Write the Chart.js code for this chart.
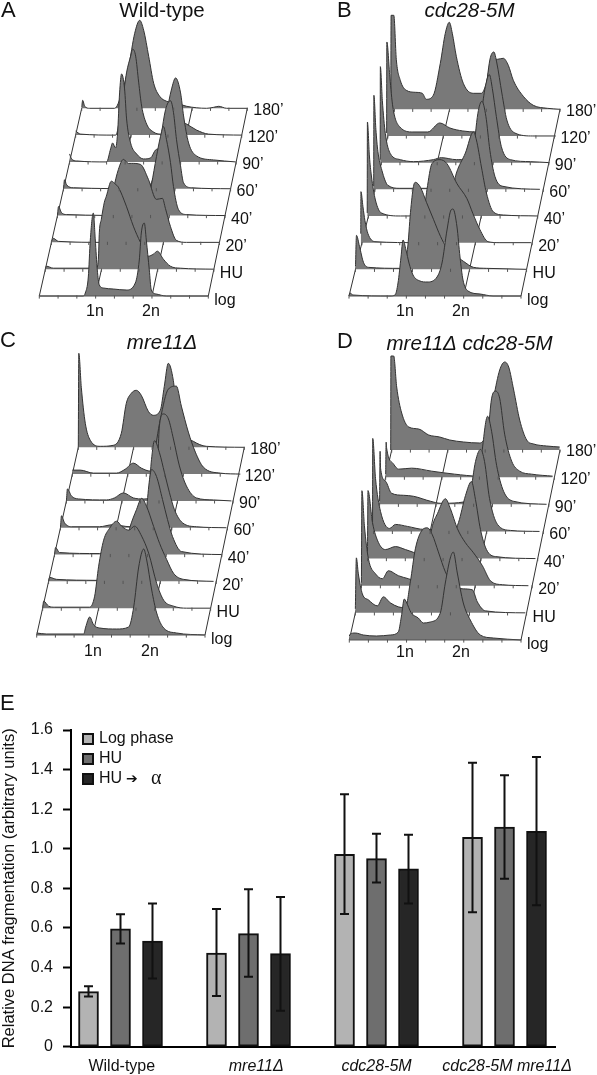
<!DOCTYPE html>
<html><head><meta charset="utf-8">
<script src="https://cdn.jsdelivr.net/npm/chart.js@4"></script>
<style>
html,body{margin:0;padding:0;background:#fff;width:597px;height:1075px;overflow:hidden}
canvas{position:absolute;display:block}
</style></head><body>
<canvas id="pA" style="left:0;top:0" width="300" height="320"></canvas>
<canvas id="pB" style="left:300px;top:0" width="297" height="320"></canvas>
<canvas id="pC" style="left:0;top:320px" width="300" height="340"></canvas>
<canvas id="pD" style="left:300px;top:320px" width="297" height="340"></canvas>
<canvas id="pE" style="left:0;top:690px" width="597" height="385"></canvas>
<script>
// ---- flow cytometry profiles: [DNA channel, cell count] per time point, front row (log) first
const rowLabels = ['log','HU','20’','40’','60’','90’','120’','180’'];
const ploidyLabels = ['1n','2n'];
const ploidyFractions = [1/3, 2/3];

const A_log=[[0,0],[44,0],[46,3],[49,19],[51,56],[54,83],[56,56],[58,26],[60,11],[64,8],[74,7],[87,6],[96,13],[100,36],[102,63],[105,73],[107,56],[110,26],[112,6],[117,2],[127,0],[169,0]];
const A_HU=[[0,0],[1,3],[8,1],[51,1],[53,10],[54,37],[56,50],[59,67],[61,73],[66,88],[70,85],[73,82],[81,63],[88,43],[95,27],[103,13],[108,15],[112,18],[118,10],[125,3],[135,1],[168,0]];
const A_20=[[0,1],[2,4],[7,1],[54,0],[57,26],[62,53],[67,73],[72,83],[77,79],[80,79],[89,78],[97,63],[105,43],[111,44],[114,34],[119,16],[125,2],[135,0],[168,0]];
const A_40=[[0,0],[1,9],[4,3],[9,1],[86,0],[91,16],[94,31],[99,59],[103,79],[106,89],[109,76],[113,53],[116,29],[121,6],[129,1],[168,0]];
const A_60=[[0,0],[1,9],[3,4],[10,1],[83,0],[93,23],[102,79],[107,88],[110,76],[113,49],[117,23],[120,6],[128,1],[167,0]];
const A_90=[[0,8],[2,3],[7,1],[37,0],[41,13],[43,19],[46,14],[48,29],[50,69],[52,88],[55,73],[57,43],[61,19],[67,8],[74,3],[81,4],[86,12],[91,16],[97,49],[102,73],[106,84],[111,69],[114,46],[119,19],[127,6],[144,2],[166,0]];
const A_120=[[0,4],[5,1],[40,0],[46,29],[51,63],[55,79],[57,86],[60,79],[63,53],[66,29],[71,11],[78,3],[85,1],[98,3],[106,13],[111,11],[121,5],[133,1],[166,0]];
const A_180=[[0,1],[1,8],[3,2],[8,0],[33,0],[40,15],[47,42],[53,75],[58,88],[62,78],[67,52],[72,25],[78,12],[85,7],[95,5],[105,2],[125,0],[132,1],[137,2],[145,0],[166,0]];

const B_log=[[0,0],[1,3],[4,1],[41,0],[46,1],[49,13],[52,39],[54,56],[57,46],[60,33],[64,21],[71,15],[78,14],[88,19],[93,33],[98,66],[102,86],[104,87],[108,69],[111,39],[114,16],[119,5],[131,2],[144,0],[172,0]];
const B_HU=[[0,3],[1,34],[4,23],[8,7],[13,2],[45,1],[52,20],[55,57],[58,83],[60,87],[65,82],[71,67],[78,50],[85,33],[91,22],[101,13],[108,8],[118,2],[131,1],[171,0]];
const B_20=[[-1.2,9],[-1,51],[1,36],[3,22],[6,9],[13,1],[58,0],[65,53],[70,79],[78,83],[85,79],[95,59],[105,44],[111,29],[118,13],[126,1],[138,0],[169,0]];
const B_40=[[-1.2,3],[-1,94],[1,60],[3,40],[7,16],[13,3],[32,0],[78,3],[88,43],[97,63],[105,84],[108,76],[113,49],[118,23],[125,4],[135,1],[169,0]];
const B_60=[[-1.2,3],[-1,94],[1,60],[3,38],[7,19],[13,4],[25,1],[55,1],[92,3],[98,33],[103,76],[107,88],[111,73],[115,39],[120,13],[128,3],[165,0]];
const B_90=[[-1.2,3],[-1,96],[1,62],[4,29],[9,9],[19,3],[32,1],[52,3],[60,5],[75,3],[95,6],[100,49],[104,76],[108,88],[111,74],[115,46],[120,16],[129,3],[149,1],[168,0]];
const B_120=[[-1.2,3],[-1,94],[2,59],[5,29],[12,9],[25,4],[40,4],[52,13],[62,8],[75,5],[89,4],[94,13],[97,36],[102,76],[106,84],[109,73],[114,43],[119,16],[127,3],[145,0],[168,0]];
const B_180=[[-3.5,0],[-3.2,94],[-0.5,94],[2,50],[6,29],[12,19],[21,17],[28,16],[32,10],[39,14],[46,46],[51,76],[55,87],[58,76],[62,53],[69,26],[79,16],[87,16],[92,26],[97,49],[103,50],[109,51],[114,44],[119,29],[129,13],[139,4],[153,1],[166,0]];

const C_log=[[0,2],[10,1],[47,1],[49,8],[53,18],[57,10],[63,7],[80,6],[92,8],[97,28],[102,68],[107,86],[110,75],[115,45],[120,22],[127,7],[140,2],[168,0]];
const C_HU=[[0,0],[1,7],[6,2],[12,1],[47,1],[52,12],[56,42],[61,68],[67,80],[74,87],[79,82],[86,78],[92,82],[99,72],[106,55],[114,25],[121,8],[131,2],[144,0],[168,0]];
const C_20=[[0,0],[1,4],[8,2],[48,1],[68,0],[81,53],[88,72],[93,83],[98,75],[105,55],[111,38],[118,22],[125,8],[135,2],[165,0]];
const C_40=[[0,0],[1,7],[5,2],[45,1],[88,2],[92,45],[95,75],[97,85],[102,78],[108,55],[113,35],[118,18],[127,3],[167,0]];
const C_60=[[0,0],[1,12],[4,5],[11,1],[39,1],[52,3],[70,1],[86,8],[91,68],[94,87],[99,75],[104,55],[109,35],[114,18],[122,5],[136,1],[166,0]];
const C_90=[[0,0],[1,12],[5,5],[12,2],[40,1],[48,3],[57,8],[67,3],[77,2],[90,15],[93,75],[97,87],[102,82],[107,62],[113,35],[120,15],[130,3],[147,1],[165,0]];
const C_120=[[0,4],[8,4],[21,1],[44,1],[53,5],[61,11],[69,6],[78,3],[81,15],[88,55],[96,85],[104,88],[109,68],[116,42],[123,22],[131,7],[148,1],[168,0]];
const C_180=[[0,0],[0.5,94],[3,60],[7,24],[12,7],[22,1],[35,2],[43,14],[48,44],[53,54],[58,57],[63,52],[70,36],[75,32],[82,37],[86,61],[90,84],[95,67],[98,41],[105,14],[115,6],[128,1],[166,0]];

const D_log=[[0,4],[1,6],[6,7],[14,5],[27,4],[41,5],[49,8],[52,23],[55,41],[57,38],[62,27],[69,22],[74,17],[81,18],[91,27],[96,57],[101,82],[104,88],[108,67],[114,37],[121,20],[131,5],[144,2],[172,0]];
const D_HU=[[0,4],[1,55],[3,39],[7,19],[13,13],[22,7],[28,16],[35,10],[43,6],[50,5],[55,31],[60,64],[67,83],[72,85],[77,78],[83,61],[90,41],[98,28],[108,24],[117,23],[122,11],[130,2],[170,0]];
const D_20=[[0,3],[0.5,95],[3,60],[7,27],[14,12],[21,7],[27,15],[37,10],[47,7],[60,3],[71,60],[76,72],[84,87],[89,77],[96,57],[104,43],[112,33],[121,20],[129,5],[141,1],[167,0]];
const D_40=[[0,3],[0.5,68],[5,36],[11,16],[18,9],[28,12],[38,9],[54,4],[74,3],[91,36],[98,63],[104,77],[108,59],[113,29],[119,9],[128,2],[168,0]];
const D_60=[[-1,3],[-0.8,93],[2,53],[7,20],[16,3],[22,7],[34,5],[51,2],[81,3],[97,40],[102,70],[107,82],[111,70],[116,33],[124,7],[137,1],[166,0]];
const D_90=[[0,3],[0.5,53],[1,36],[6,23],[12,11],[24,9],[34,8],[51,3],[61,1],[97,6],[102,49],[108,88],[112,73],[117,39],[124,13],[134,3],[167,0]];
const D_120=[[0,3],[0.5,35],[1,29],[8,13],[13,8],[26,9],[46,6],[69,3],[93,1],[101,29],[106,79],[110,86],[114,79],[119,43],[126,16],[134,6],[146,3],[167,1]];
const D_180=[[-1,0],[-0.8,94],[2,94],[5,63],[10,37],[17,23],[27,21],[37,15],[48,13],[58,10],[72,8],[88,7],[95,17],[102,53],[108,80],[113,88],[117,83],[122,60],[128,30],[135,10],[142,6],[155,4],[168,3]];

// ---- panel E values
const groups = ['Wild-type','mre11Δ','cdc28-5M','cdc28-5M mre11Δ'];
const groupItalic = [false,true,true,true];
const yTicks = [0,0.2,0.4,0.6,0.8,1.0,1.2,1.4,1.6];
const logPhase = [0.278,0.473,0.972,1.058];
const huOnly   = [0.595,0.571,0.950,1.110];
const huAlpha  = [0.534,0.470,0.898,1.088];
const logPhaseHi=[0.306,0.696,1.275,1.435], logPhaseLo=[0.253,0.256,0.670,0.679];
const huOnlyHi  =[0.669,0.795,1.076,1.371], huOnlyLo  =[0.522,0.354,0.829,0.849];
const huAlphaHi =[0.724,0.756,1.071,1.464], huAlphaLo =[0.344,0.182,0.724,0.714];

// ---- layout / style (separate from the values)
const FONT='"Liberation Sans", Arial, sans-serif';
const panels=[
 {id:'pA',W:300,H:320,rows:[A_log,A_HU,A_20,A_40,A_60,A_90,A_120,A_180],fl:39.3,bl:81.7,fr:208.3,br:247.3,fb:296,bb:108.3,
  letter:'A',lx:1,ly:11,title:'Wild-type',tx:162,ty:11,italic:false,nx:[95,151],ny:312},
 {id:'pB',W:297,H:320,rows:[B_log,B_HU,B_20,B_40,B_60,B_90,B_120,B_180],fl:49,bl:94.3,fr:221,br:260,fb:296,bb:109.3,
  letter:'B',lx:37,ly:11,title:'cdc28-5M',tx:169.5,ty:11,italic:true,nx:[105,161],ny:312},
 {id:'pC',W:300,H:340,rows:[C_log,C_HU,C_20,C_40,C_60,C_90,C_120,C_180],fl:36.7,bl:78.3,fr:205,br:244.3,fb:315,bb:127.3,
  letter:'C',lx:0,ly:21,title:'mre11Δ',tx:162,ty:23,italic:true,nx:[93,150],ny:332},
 {id:'pD',W:297,H:340,rows:[D_log,D_HU,D_20,D_40,D_60,D_90,D_120,D_180],fl:49.3,bl:91.7,fr:221,br:260,fb:320,bb:130,
  letter:'D',lx:37,ly:22,title:'mre11Δ cdc28-5M',tx:169.5,ty:24,italic:true,nx:[105,161],ny:333},
];
const INK='#333', GRAY='#797979';

function buildPanel(p){
  const n=p.rows.length-1, t=i=>i/n;
  const left=i=>p.fl+(p.bl-p.fl)*t(i), right=i=>p.fr+(p.br-p.fr)*t(i);
  const base=i=>p.H-(p.fb+(p.bb-p.fb)*t(i));
  const plain={pointRadius:0,fill:false,showLine:true,borderWidth:1,borderColor:INK};
  const list=[];
  list.push({...plain,data:[{x:left(0),y:base(0)},{x:left(n),y:base(n)}]});
  list.push({...plain,data:[{x:right(0),y:base(0)},{x:right(n),y:base(n)}]});
  ploidyFractions.forEach(f=>{
    list.push({...plain,data:[0,n].map(i=>({x:left(i)+(right(i)-left(i))*f,y:base(i)}))});
  });
  for(let i=n;i>=0;i--){
    list.push({showLine:true,pointRadius:0,cubicInterpolationMode:'monotone',borderWidth:1,
      borderColor:INK,backgroundColor:GRAY,fill:{value:base(i)},
      data:p.rows[i].map(([c,h])=>({x:left(i)+c,y:base(i)+h}))});
  }
  list.push({...plain,borderWidth:1,borderColor:'#555',data:[{x:left(0),y:base(0)},{x:right(0),y:base(0)}]});
  const ticks=[];
  for(let i=0;i<=n;i++)for(let k=0;k<=9;k++)
    ticks.push({x:left(i)+(right(i)-left(i))*k/9,y:base(i)-1});
  list.push({showLine:false,data:ticks,pointStyle:'line',rotation:90,pointRadius:1.6,borderWidth:1,borderColor:'#555',backgroundColor:'#555'});
  list.reverse();

  const textPlugin={id:'panelText',afterDraw(c){
    const g=c.ctx,xs=c.scales.x,ys=c.scales.y;
    g.save();g.fillStyle='#111';g.textBaseline='middle';
    g.textAlign='left';g.font='16px '+FONT;
    rowLabels.forEach((s,i)=>g.fillText(s,xs.getPixelForValue(right(i)+6),ys.getPixelForValue(base(i))+2+3*(1-t(i))));
    g.textAlign='center';
    ploidyLabels.forEach((s,k)=>g.fillText(s,p.nx[k],p.ny));
    g.textAlign='left';g.font='22px '+FONT;g.fillText(p.letter,p.lx,p.ly);
    g.textAlign='center';g.font=(p.italic?'italic ':'')+'20.5px '+FONT;g.fillText(p.title,p.tx,p.ty);
    g.restore();
  }};
  new Chart(document.getElementById(p.id),{type:'scatter',data:{datasets:list},plugins:[textPlugin],options:{
    responsive:false,animation:false,events:[],layout:{padding:0,autoPadding:false},
    scales:{x:{type:'linear',min:0,max:p.W,display:false},y:{type:'linear',min:0,max:p.H,display:false}},
    plugins:{legend:{display:false},tooltip:{enabled:false}}}});
}
panels.forEach(buildPanel);

// ---- panel E
const xPos=[0,1,2,3];
const labelPos=[0.01,1.06,2,3.02];
const series=[
 {label:'Log phase',vals:logPhase,hi:logPhaseHi,lo:logPhaseLo,color:'#b3b3b3'},
 {label:'HU',vals:huOnly,hi:huOnlyHi,lo:huOnlyLo,color:'#6e6e6e'},
 {label:'HU ➔ α',vals:huAlpha,hi:huAlphaHi,lo:huAlphaLo,color:'#262626'},
];
const errPlugin={id:'errorBars',afterDatasetsDraw(c){
  const g=c.ctx,ys=c.scales.y;g.save();g.strokeStyle='#111';g.lineWidth=2;
  series.forEach((s,d)=>{c.getDatasetMeta(d).data.forEach((b,i)=>{
    const hi=ys.getPixelForValue(s.hi[i]),lo=ys.getPixelForValue(s.lo[i]);
    g.beginPath();g.moveTo(b.x,hi);g.lineTo(b.x,lo);
    g.moveTo(b.x-4.5,hi);g.lineTo(b.x+4.5,hi);g.moveTo(b.x-4.5,lo);g.lineTo(b.x+4.5,lo);g.stroke();
  });});
  g.restore();
}};
const legendPlugin={id:'sideText',afterDraw(c){
  const g=c.ctx;g.save();g.textBaseline='middle';
  series.forEach((s,i)=>{
    const y=49+20*i;
    g.fillStyle=s.color;g.strokeStyle='#111';g.lineWidth=2;
    g.fillRect(83,y-5,10,10);g.strokeRect(83,y-5,10,10);
    g.fillStyle='#111';g.textAlign='left';
    const parts=s.label.split(' ');
    if(parts.length===3&&parts[1]==='➔'){
      g.font='16px '+FONT;g.fillText(parts[0],99,y);
      g.font='14px "DejaVu Sans"';g.fillText(parts[1],126,y);
      g.font='20px "Liberation Serif"';g.fillText(parts[2],151,y);
    }else{
      g.font='16px '+FONT;g.fillText(s.label,99,y);
    }
  });
  g.font='22px '+FONT;g.fillText('E',0,14);
  g.restore();
}};
new Chart(document.getElementById('pE'),{type:'bar',
  data:{datasets:series.map(s=>({label:s.label,data:s.vals.map((v,i)=>({x:xPos[i],y:v})),backgroundColor:s.color,
    borderColor:'#111',borderWidth:2,borderSkipped:false,barThickness:32,maxBarThickness:20}))},
  plugins:[errPlugin,legendPlugin],
  options:{responsive:false,animation:false,events:[],layout:{padding:{top:40,right:42,left:0,bottom:0},autoPadding:false},
    scales:{
      x:{type:'linear',offset:false,min:-0.3867,max:3.3945,
        afterBuildTicks(s){s.ticks=labelPos.map(v=>({value:v}));},
        afterFit(s){s.height=28.3;},
        border:{color:'#000',width:2},grid:{display:true,offset:false,drawOnChartArea:false,drawTicks:false},
        ticks:{autoSkip:false,minRotation:0,maxRotation:0,padding:10,color:'#111',
          callback:(v,i)=>groups[i],
          font:ctx=>({family:FONT,size:16,style:groupItalic[ctx.index]?'italic':'normal'})}},
      y:{type:'linear',min:0,max:1.6,
        afterBuildTicks(s){s.ticks=yTicks.map(v=>({value:v}));},
        afterFit(s){s.width=71;},
        border:{color:'#000',width:2},
        grid:{display:true,drawOnChartArea:false,drawTicks:true,tickLength:8,tickWidth:2,tickColor:'#000'},
        title:{display:true,text:'Relative DNA fragmentation (arbitrary units)',color:'#111',font:{family:FONT,size:16.5},padding:{top:0,bottom:0}},
        ticks:{padding:10,color:'#111',font:{family:FONT,size:16},callback:v=>v===0?'0':v.toFixed(1)}}
    },
    plugins:{legend:{display:false},tooltip:{enabled:false}}}});
</script>
</body></html>
